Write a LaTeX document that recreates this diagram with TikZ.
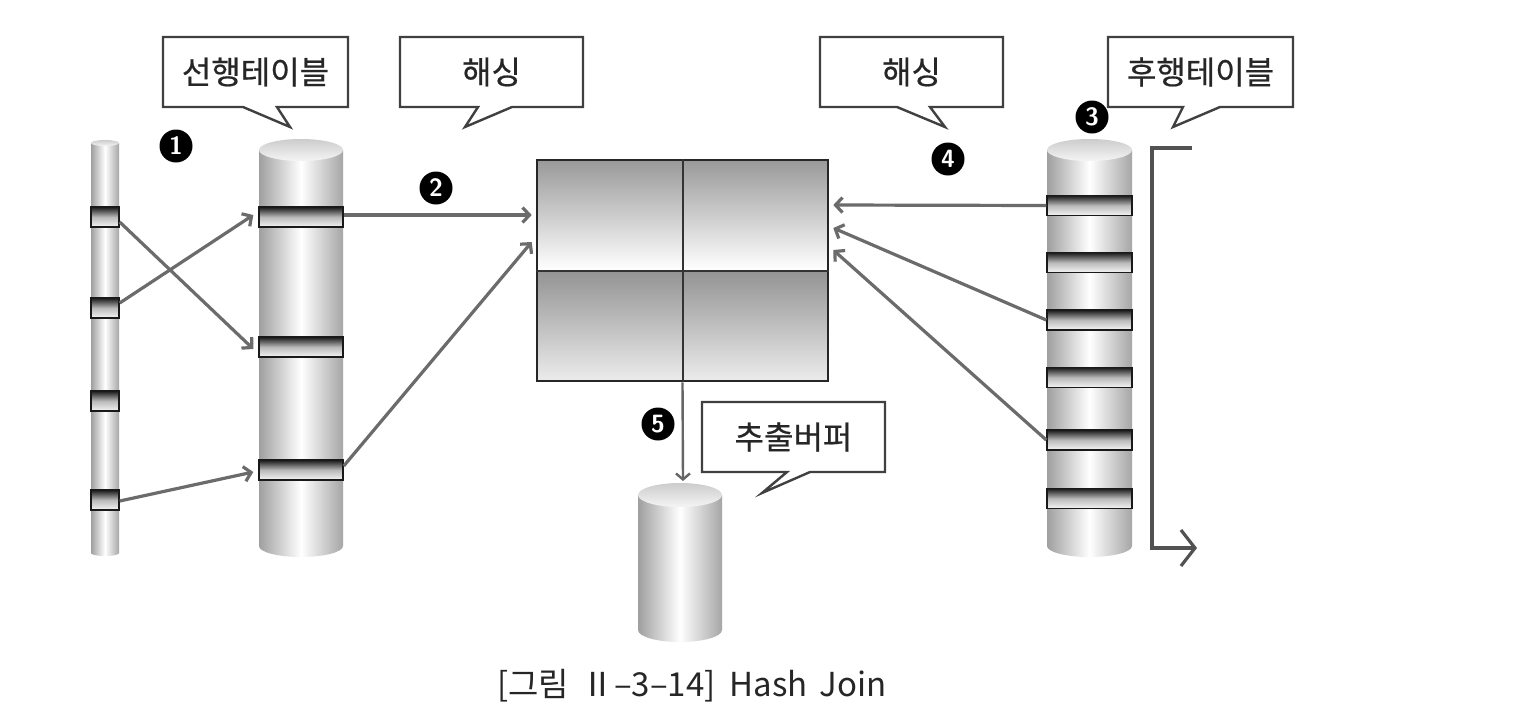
\documentclass[tikz,border=0pt]{standalone}
\usepackage{fontspec}
\newfontfamily\kr{Noto Sans CJK KR}[FakeBold=0.6]
\newfontfamily\krc{Noto Sans CJK KR}
\usetikzlibrary{arrows.meta,calc}
\newcommand\mycyl[5]{% x1 x2 ytop ybot ry
  \pgfmathsetmacro\cx{(#1+#2)/2}\pgfmathsetmacro\rx{(#2-#1)/2}
  \shade[left color=gray!75,right color=gray!70,middle color=white]
    (#1,#3) -- (#1,#4) arc[start angle=180,end angle=360,x radius=\rx pt,y radius=#5pt] -- (#2,#3) -- cycle;
  \shade[top color=gray!40,bottom color=gray!8] (\cx,#3) ellipse[x radius=\rx pt,y radius=#5pt];
}
\newcommand\callout[9]{% name x1 y1 x2 y2 basea baseb tip text
  \draw[callbox] (#2,#3) -- (#4,#3) -- (#4,#5) -- (#7,#5) -- (#8) -- (#6,#5) -- (#2,#5) -- cycle;
  \node[calltext] (#1) at ({(#2+#4)/2},{(#3+#5)/2}) {#9};
}
\begin{document}
\begin{tikzpicture}[x=1pt,y=-1pt,
  arr/.style={draw=black!58,line width=3.2pt,-{Straight Barb[length=7pt,width=15pt]}},
  blk/.style={rectangle,draw=black!90,line width=1.4pt,minimum height=20pt,inner sep=0pt,
    path picture={\shade[top color=black!90,bottom color=gray!8,middle color=gray!55]
      (path picture bounding box.north west) rectangle (path picture bounding box.south east);}},
  callbox/.style={draw=black!75,line width=2.4pt,fill=white,line join=miter},
  calltext/.style={font=\kr\fontsize{32}{36}\selectfont,text=black!85},
  num/.style={circle,fill=black,text=white,minimum size=33pt,inner sep=0pt,font=\sffamily\bfseries\fontsize{25}{25}\selectfont}]
\useasboundingbox (0,0) rectangle (1534,710);
\fill[white] (0,0) rectangle (1534,710);

% callouts
\callout{c1}{163}{37}{348}{107}{243}{277}{290,127}{선행테이블}
\callout{c2}{400}{37}{583}{107}{478}{512}{465,127}{해싱}
\callout{c3}{820}{37}{1003}{107}{897}{930}{945,127}{해싱}
\callout{c4}{1108}{37}{1293}{107}{1183}{1220}{1173,127}{후행테이블}

% thin column
\mycyl{91}{119}{143}{553}{3}
\node[blk,minimum width=28pt] (T1) at (105,217) {};
\node[blk,minimum width=28pt] (T2) at (105,308) {};
\node[blk,minimum width=28pt] (T3) at (105,401) {};
\node[blk,minimum width=28pt] (T4) at (105,500) {};

% left cylinder
\mycyl{259}{343}{150}{546}{11}
\node[blk,minimum width=84pt] (L1) at (301,217) {};
\node[blk,minimum width=84pt] (L2) at (301,347) {};
\node[blk,minimum width=84pt] (L3) at (301,470) {};

% right cylinder
\mycyl{1047}{1132}{150}{546}{11}
\node[blk,minimum width=85pt] (R1) at (1089.5,205.5) {};
\node[blk,minimum width=85pt] (R2) at (1089.5,262.5) {};
\node[blk,minimum width=85pt] (R3) at (1089.5,320) {};
\node[blk,minimum width=85pt] (R4) at (1089.5,377.5) {};
\node[blk,minimum width=85pt] (R5) at (1089.5,440) {};
\node[blk,minimum width=85pt] (R6) at (1089.5,498.5) {};

% output cylinder
\mycyl{638}{722}{495}{630}{12}
\callout{c5}{702}{402}{885}{472}{787}{810}{762,493}{추출버퍼}

% hash table
\shade[top color=gray!80,bottom color=white] (537,160) rectangle (683,270);
\shade[top color=gray!80,bottom color=white] (683,160) rectangle (828,270);
\shade[top color=gray!85,bottom color=gray!15] (537,270) rectangle (683,381);
\shade[top color=gray!85,bottom color=gray!15] (683,270) rectangle (828,381);
\node[draw=black!85,line width=2.6pt,minimum width=291pt,minimum height=221pt,inner sep=0pt] (H) at (682.5,270.5) {};
\draw[black!80,line width=2pt] (H.north) -- (H.south);
\draw[black!80,line width=2pt] (H.west) -- (H.east);

% arrows
\draw[arr] ([yshift=-5pt]T1.east) -- ([xshift=-5pt,yshift=-2pt]L2.west);
\draw[arr] ([yshift=5pt]T2.east) -- ([xshift=-5pt,yshift=2pt]L1.west);
\draw[arr] ([yshift=-1pt]T4.east) -- ([xshift=-5pt,yshift=-2pt]L3.west);
\draw[arr] ([yshift=2pt]L1.east) -- ([xshift=-4pt]H.west |- {0,215});
\draw[arr] ([yshift=4pt]L3.east) -- ([xshift=-4pt]H.west |- {0,242});
\draw[arr] (R1.west) -- ([xshift=4pt]H.east |- {0,205});
\draw[arr] (R3.west) -- ([xshift=4pt]H.east |- {0,228});
\draw[arr] (R5.west) -- ([xshift=4pt]H.east |- {0,250});
\coordinate (outtop) at (683,481);
\draw[draw=black!60,line width=2.4pt,-{Straight Barb[length=6pt,width=14pt]}] (H.south) -- (outtop);

% bracket
\coordinate (b1) at (1192,148);
\coordinate (b2) at (1152,148);
\coordinate (b3) at (1152,548);
\coordinate (b4) at (1197,548);
\draw[black!68,line width=3.2pt,-{Straight Barb[length=14pt,width=36pt]}] (b1) -- (b2) -- (b3) -- (b4);

% numbers
\node[num] (n1) at (176,146) {1};
\node[num] (n2) at (436,188) {2};
\node[num] (n3) at (1092,117) {3};
\node[num] (n4) at (948,159) {4};
\node[num] (n5) at (658,424) {5};

% caption
\node[font=\krc\fontsize{33}{36}\selectfont,text=black!85] (cap) at (692,686) {[그림\hspace{12pt}Ⅱ–3–14]\hspace{14pt}Hash\hspace{12pt}Join};
\end{tikzpicture}
\end{document}
